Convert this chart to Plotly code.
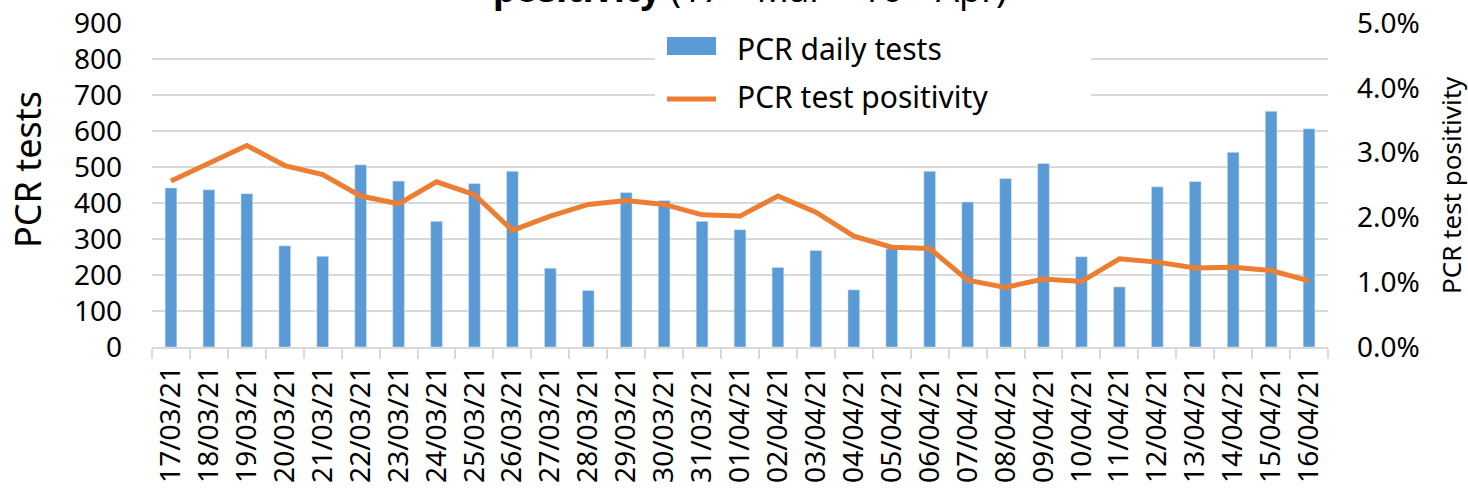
import plotly.graph_objects as go

dates = ['17/03/21', '18/03/21', '19/03/21', '20/03/21', '21/03/21', '22/03/21',
         '23/03/21', '24/03/21', '25/03/21', '26/03/21', '27/03/21', '28/03/21',
         '29/03/21', '30/03/21', '31/03/21', '01/04/21', '02/04/21', '03/04/21',
         '04/04/21', '05/04/21', '06/04/21', '07/04/21', '08/04/21', '09/04/21',
         '10/04/21', '11/04/21', '12/04/21', '13/04/21', '14/04/21', '15/04/21',
         '16/04/21']

pcr_tests = [442, 437, 426, 281, 252, 506, 461, 349, 454, 488, 219, 157, 429,
             407, 349, 326, 221, 268, 159, 273, 488, 403, 468, 510, 251, 167,
             445, 460, 541, 655, 606]

# percent
positivity = [2.56, 2.84, 3.11, 2.80, 2.66, 2.33, 2.21, 2.55, 2.35, 1.80, 2.02,
              2.20, 2.26, 2.20, 2.04, 2.02, 2.33, 2.08, 1.71, 1.54, 1.52, 1.03,
              0.92, 1.05, 1.01, 1.36, 1.31, 1.22, 1.23, 1.18, 1.02]

W, H = 1468, 491
L, R, T, B = 152, 140, 23, 144
PW, PH = W - L - R, H - T - B

BLUE = '#5B9BD5'
ORANGE = '#ED7D31'
GRID = '#D9D9D9'
FONT = 'Noto Sans'


def px(x):
    return (x - L) / PW


def py(y):
    return (H - B - y) / PH


fig = go.Figure()
fig.add_trace(go.Bar(x=dates, y=pcr_tests, name='PCR daily tests',
                     marker=dict(color=BLUE), width=0.31, showlegend=False))
fig.add_trace(go.Scatter(x=dates, y=positivity, name='PCR test positivity',
                         mode='lines', yaxis='y2', showlegend=False,
                         line=dict(color=ORANGE, width=5)))

fig.update_layout(
    width=W, height=H,
    margin=dict(l=L, r=R, t=T, b=B, autoexpand=False),
    paper_bgcolor='white', plot_bgcolor='white',
    font=dict(family=FONT, color='black', size=28),
    xaxis=dict(type='category', tickangle=-90, showgrid=False, automargin=False,
               showline=True, linecolor=GRID, linewidth=1.5,
               ticks='outside', tickson='boundaries', ticklen=10,
               tickcolor=GRID, tickwidth=1.5, ticklabelstandoff=6,
               tickfont=dict(size=28)),
    yaxis=dict(range=[0, 900], dtick=100, showgrid=True, gridcolor=GRID,
               gridwidth=1.5, zeroline=False, showline=False, ticks='',
               automargin=False, ticklabelstandoff=29, tickfont=dict(size=28)),
    yaxis2=dict(range=[0, 5], dtick=1, tickformat='.1f', ticksuffix='%',
                overlaying='y', side='right', showgrid=False, zeroline=False,
                showline=False, ticks='', automargin=False,
                ticklabelstandoff=28, tickfont=dict(size=28)),
)

# axis titles
fig.add_annotation(text='PCR tests', textangle=-90, x=px(27), y=py(170),
                   xref='paper', yref='paper', showarrow=False,
                   font=dict(size=36), xanchor='center', yanchor='middle')
fig.add_annotation(text='PCR test positivity', textangle=-90, x=px(1451), y=py(185),
                   xref='paper', yref='paper', showarrow=False,
                   font=dict(size=26), xanchor='center', yanchor='middle')

# title (mostly cut off at the top)
fig.add_annotation(text='<b>positivity</b> (17<sup>th</sup> Mar – 16<sup>th</sup> Apr)',
                   x=px(750), y=py(15), xref='paper', yref='paper',
                   showarrow=False, font=dict(size=36),
                   xanchor='center', yanchor='bottom')

# legend box
fig.add_shape(type='rect', xref='paper', yref='paper', x0=px(655), x1=px(1091),
              y0=py(113), y1=py(-10), fillcolor='white', line=dict(width=0),
              layer='above')
fig.add_shape(type='rect', xref='paper', yref='paper', x0=px(667), x1=px(716),
              y0=py(55), y1=py(37), fillcolor=BLUE, line=dict(width=0),
              layer='above')
fig.add_shape(type='line', xref='paper', yref='paper', x0=px(667), x1=px(716),
              y0=py(99), y1=py(99), line=dict(color=ORANGE, width=5),
              layer='above')
fig.add_annotation(text='PCR daily tests', x=px(735), y=py(48), xref='paper',
                   yref='paper', showarrow=False, font=dict(size=30),
                   xanchor='left', yanchor='middle')
fig.add_annotation(text='PCR test positivity', x=px(735), y=py(96), xref='paper',
                   yref='paper', showarrow=False, font=dict(size=30),
                   xanchor='left', yanchor='middle')

fig.write_html('out.html', config={'displayModeBar': False},
               post_script="document.body.style.margin='0';")
